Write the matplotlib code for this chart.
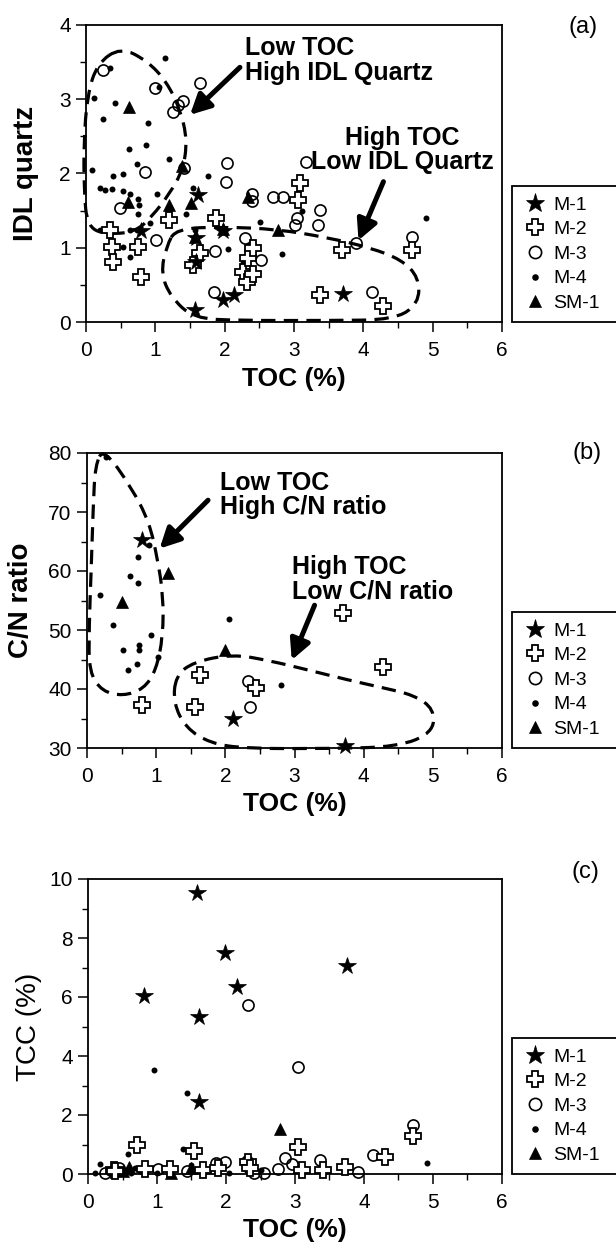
import numpy as np
import matplotlib
matplotlib.use('Agg')
import matplotlib.pyplot as plt
from matplotlib.path import Path
from matplotlib.patches import PathPatch, Rectangle
from matplotlib.ticker import MultipleLocator

plt.rcParams['font.family'] = ['Liberation Sans', 'DejaVu Sans']

series_names = ['M-1', 'M-2', 'M-3', 'M-4', 'SM-1']

# ---------------- Panel (a): TOC vs IDL quartz ----------------
a_m1_toc = [0.80, 1.57, 1.59, 1.59, 1.62, 1.98, 1.98, 2.13, 3.71]
a_m1_idl = [1.22, 0.16, 1.13, 0.81, 1.71, 1.22, 0.30, 0.36, 0.38]
a_m2_toc = [0.35, 0.37, 0.39, 0.75, 0.80, 1.19, 1.55, 1.64, 1.88, 2.27,
            2.32, 2.34, 2.41, 2.41, 3.06, 3.09, 3.38, 3.69, 4.29, 4.70]
a_m2_idl = [1.24, 1.01, 0.81, 1.01, 0.61, 1.38, 0.77, 0.93, 1.40, 0.68,
            0.54, 0.86, 0.99, 0.65, 1.64, 1.87, 0.36, 0.97, 0.21, 0.97]
a_m3_toc = [0.24, 0.49, 0.85, 1.00, 1.01, 1.26, 1.33, 1.40, 1.42, 1.65,
            1.84, 1.86, 2.03, 2.02, 2.29, 2.38, 2.39, 2.39, 2.53, 2.70,
            2.84, 3.02, 3.04, 3.17, 3.34, 3.37, 3.90, 4.12, 4.70]
a_m3_idl = [3.40, 1.53, 2.02, 3.15, 1.10, 2.83, 2.92, 2.97, 2.08, 3.22,
            0.41, 0.95, 2.14, 1.89, 1.13, 1.00, 1.72, 1.63, 0.84, 1.69,
            1.69, 1.30, 1.40, 2.16, 1.31, 1.51, 1.06, 0.41, 1.15]
a_m4_toc = [1.14, 0.35, 0.42, 0.24, 0.90, 0.62, 0.86, 1.19, 0.73, 0.54,
            0.39, 1.76, 0.20, 0.27, 0.37, 0.54, 0.63, 0.75, 0.77, 1.02,
            1.55, 0.75, 0.92, 1.44, 0.20, 0.27, 0.39, 0.63, 0.73, 2.51,
            1.57, 0.54, 0.63, 2.05, 2.26, 1.57, 3.11, 2.82, 4.90, 1.06,
            0.12, 0.08]
a_m4_idl = [3.55, 3.42, 2.95, 2.73, 2.68, 2.33, 2.39, 2.19, 2.13, 1.99,
            1.96, 1.97, 1.80, 1.78, 1.79, 1.76, 1.72, 1.65, 1.58, 1.72,
            1.80, 1.46, 1.33, 1.46, 1.24, 1.24, 1.24, 1.24, 1.24, 1.35,
            1.24, 1.01, 0.88, 0.98, 0.80, 0.79, 1.49, 0.92, 1.40, 3.17,
            3.02, 2.05]
a_sm1_toc = [0.62, 0.61, 1.19, 1.52, 1.38, 1.57, 2.77, 2.34, 1.98]
a_sm1_idl = [2.89, 1.62, 1.58, 1.60, 2.10, 1.15, 1.24, 1.69, 1.25]

# ---------------- Panel (b): TOC vs C/N ratio ----------------
b_m1_toc = [0.79, 2.11, 3.73]
b_m1_cn = [65.3, 35.0, 30.3]
b_m2_toc = [0.79, 1.56, 1.63, 2.45, 3.70, 4.28]
b_m2_cn = [37.3, 37.0, 42.4, 40.1, 52.8, 43.8]
b_m3_toc = [2.33, 2.35]
b_m3_cn = [41.3, 37.0]
b_m4_toc = [0.28, 0.74, 0.62, 0.74, 0.19, 0.38, 0.93, 0.52, 0.75, 0.75,
            1.03, 0.73, 0.59, 2.06, 2.81, 0.89]
b_m4_cn = [79.4, 62.3, 59.2, 58.0, 55.9, 50.8, 49.2, 46.6, 47.5, 46.6,
           45.5, 44.3, 43.2, 51.8, 40.7, 64.4]
b_sm1_toc = [1.17, 0.50, 1.99]
b_sm1_cn = [59.6, 54.8, 46.6]

# ---------------- Panel (c): TOC vs TCC ----------------
c_m1_toc = [1.58, 1.99, 2.16, 0.81, 1.61, 1.61, 3.75]
c_m1_tcc = [9.54, 7.48, 6.35, 6.05, 5.31, 2.44, 7.06]
c_m2_toc = [0.37, 0.39, 0.71, 0.83, 1.19, 1.53, 1.66, 1.89, 2.32, 2.35,
            3.05, 3.10, 3.41, 3.72, 4.30, 4.71]
c_m2_tcc = [0.13, 0.10, 0.98, 0.17, 0.17, 0.78, 0.15, 0.22, 0.40, 0.20,
            0.90, 0.15, 0.15, 0.25, 0.59, 1.30]
c_m3_toc = [0.25, 0.45, 1.02, 1.43, 1.86, 1.99, 2.32, 2.30, 2.41, 2.55,
            2.75, 2.86, 2.95, 3.04, 3.36, 3.92, 4.13, 4.71]
c_m3_tcc = [0.02, 0.20, 0.17, 0.10, 0.36, 0.41, 5.74, 0.45, 0.05, 0.05,
            0.18, 0.55, 0.35, 3.63, 0.47, 0.08, 0.64, 1.66]
c_m4_toc = [0.17, 0.58, 0.95, 1.38, 1.44, 4.92, 0.10, 0.30, 0.45, 0.55,
            0.62, 0.68, 0.75, 1.00, 1.50, 1.55, 2.05, 2.30, 2.50]
c_m4_tcc = [0.35, 0.68, 3.51, 0.86, 2.75, 0.38, 0.05, 0.05, 0.10, 0.15,
            0.05, 0.20, 0.10, 0.05, 0.30, 0.10, 0.05, 0.10, 0.15]
c_sm1_toc = [2.78, 0.50, 0.60, 1.20, 1.50]
c_sm1_tcc = [1.51, 0.10, 0.25, 0.05, 0.20]

# ---------------- Hand-drawn dashed outlines (annotation shapes) ----------------
a_loop1 = [(0.50, 3.70), (0.88, 3.52), (1.16, 3.24), (1.36, 2.86), (1.46, 2.45),
           (1.40, 2.05), (1.20, 1.72), (0.95, 1.42), (0.72, 1.22), (0.35, 1.18),
           (0.02, 1.26), (-0.03, 1.80), (-0.03, 2.45), (0.02, 3.05), (0.16, 3.48)]
a_loop2 = [(1.30, 1.26), (2.00, 1.28), (2.75, 1.25), (3.47, 1.14), (4.10, 1.00),
           (4.55, 0.84), (4.80, 0.60), (4.80, 0.25), (4.45, 0.03), (3.50, 0.02),
           (2.20, 0.02), (1.55, 0.05), (1.22, 0.34), (1.08, 0.66), (1.16, 1.02)]
b_loop1 = [(0.24, 80.8), (0.64, 74.2), (0.90, 68.3), (1.02, 62.0), (1.10, 56.0),
           (1.10, 49.0), (1.00, 43.2), (0.82, 40.0), (0.52, 38.8), (0.22, 39.6),
           (0.03, 42.8), (0.03, 50.5), (0.06, 60.0), (0.09, 71.0), (0.12, 78.0)]
b_loop2 = [(1.28, 42.2), (1.54, 44.6), (2.11, 45.9), (2.64, 44.8), (3.17, 43.3),
           (3.75, 41.6), (4.28, 40.2), (4.72, 39.0), (5.02, 36.6), (5.00, 32.6),
           (4.50, 30.2), (3.50, 29.9), (2.30, 29.9), (1.78, 30.8), (1.43, 33.4),
           (1.25, 37.6)]

styles = {
    'M-1': dict(marker='*', ms=13, mfc='black', mec='black', mew=0.5),
    'M-2': dict(marker='P', ms=11, mfc='white', mec='black', mew=1.3),
    'M-3': dict(marker='o', ms=8, mfc='none', mec='black', mew=1.2),
    'M-4': dict(marker='o', ms=4.3, mfc='black', mec='black', mew=0),
    'SM-1': dict(marker='^', ms=8, mfc='black', mec='black', mew=0.5),
}
draw_order = ['M-4', 'M-3', 'SM-1', 'M-2', 'M-1']


def closed_smooth(points):
    pts = np.array(points, dtype=float)
    n = len(pts)
    mids = [(pts[i] + pts[(i + 1) % n]) / 2 for i in range(n)]
    verts = [mids[-1]]
    codes = [Path.MOVETO]
    for i in range(n):
        verts += [pts[i], mids[i]]
        codes += [Path.CURVE3, Path.CURVE3]
    return Path(verts, codes)


def dashed_loop(ax, pts):
    patch = PathPatch(closed_smooth(pts), facecolor='none', edgecolor='black',
                      lw=2.3, linestyle=(0, (4.5, 2.6)), zorder=1.5,
                      clip_on=False, capstyle='butt')
    ax.add_patch(patch)


FW, FH = 616, 1246
fig = plt.figure(figsize=(FW / 100, FH / 100), dpi=100)


def make_axes(left, right, top, bottom):
    return fig.add_axes([left / FW, 1 - bottom / FH, (right - left) / FW, (bottom - top) / FH])


ax_a = make_axes(86, 502, 25, 322)
ax_b = make_axes(87, 502, 453, 748)
ax_c = make_axes(88, 502, 879, 1174)

panel_data = [
    (ax_a, {'M-1': (a_m1_toc, a_m1_idl), 'M-2': (a_m2_toc, a_m2_idl),
            'M-3': (a_m3_toc, a_m3_idl), 'M-4': (a_m4_toc, a_m4_idl),
            'SM-1': (a_sm1_toc, a_sm1_idl)}),
    (ax_b, {'M-1': (b_m1_toc, b_m1_cn), 'M-2': (b_m2_toc, b_m2_cn),
            'M-3': (b_m3_toc, b_m3_cn), 'M-4': (b_m4_toc, b_m4_cn),
            'SM-1': (b_sm1_toc, b_sm1_cn)}),
    (ax_c, {'M-1': (c_m1_toc, c_m1_tcc), 'M-2': (c_m2_toc, c_m2_tcc),
            'M-3': (c_m3_toc, c_m3_tcc), 'M-4': (c_m4_toc, c_m4_tcc),
            'SM-1': (c_sm1_toc, c_sm1_tcc)}),
]

ylims = [(0, 4), (30, 80), (0, 10)]
ymaj = [1, 10, 2]
ymin = [0.5, 5, 1]
ylabels = ['IDL quartz', 'C/N ratio', 'TCC (%)']
yweights = ['bold', 'bold', 'normal']
ylabel_x = [-0.113, -0.128, -0.110]
panel_tags = ['(a)', '(b)', '(c)']
tag_pos = [(583, 27), (587, 453), (585, 872)]
legend_bottoms = [322, 748, 1174]
LEG_H = 136

for i, (ax, data) in enumerate(panel_data):
    handles = {}
    for name in draw_order:
        xs, ys = data[name]
        h, = ax.plot(xs, ys, linestyle='none', label=name, zorder=3, clip_on=False, **styles[name])
        handles[name] = h
    ax.set_xlim(0, 6)
    ax.set_ylim(*ylims[i])
    ax.xaxis.set_major_locator(MultipleLocator(1))
    ax.xaxis.set_minor_locator(MultipleLocator(0.5))
    ax.yaxis.set_major_locator(MultipleLocator(ymaj[i]))
    ax.yaxis.set_minor_locator(MultipleLocator(ymin[i]))
    ax.tick_params(which='major', direction='out', length=7, width=1.1, labelsize=15, pad=4)
    ax.tick_params(which='minor', direction='out', length=4.5, width=1.0)
    ax.tick_params(axis='x', which='major', pad=7)
    for s in ax.spines.values():
        s.set_linewidth(1.3)
    ax.set_xlabel('TOC (%)', fontsize=19, fontweight='bold')
    ax.xaxis.set_label_coords(0.5, -0.15)
    ax.set_ylabel(ylabels[i], fontsize=20, fontweight=yweights[i])
    ax.yaxis.set_label_coords(ylabel_x[i], 0.5)
    bottom = legend_bottoms[i]
    frame = Rectangle((512 / FW, 1 - bottom / FH), 140 / FW, LEG_H / FH,
                      transform=fig.transFigure, facecolor='white', edgecolor='black',
                      lw=1.3, clip_on=False, zorder=-1)
    fig.add_artist(frame)
    leg = ax.legend([handles[n] for n in series_names], series_names,
                    loc='center left',
                    bbox_to_anchor=(525 / FW, 1 - (bottom - LEG_H / 2) / FH),
                    bbox_transform=fig.transFigure, borderaxespad=0, borderpad=0,
                    fontsize=14, frameon=False,
                    handlelength=1.0, handletextpad=0.45, labelspacing=0.36,
                    markerscale=1.1)
    leg.set_zorder(5)
    fig.text(tag_pos[i][0] / FW, 1 - tag_pos[i][1] / FH, panel_tags[i],
             fontsize=17, ha='center', va='center')

# outlines
dashed_loop(ax_a, a_loop1)
dashed_loop(ax_a, a_loop2)
dashed_loop(ax_b, b_loop1)
dashed_loop(ax_b, b_loop2)

arrow_kw = dict(arrowstyle='-|>,head_length=0.55,head_width=0.28', lw=3.6,
                color='black', shrinkA=0, shrinkB=0, mutation_scale=22)

# Panel (a) annotations
ax_a.text(2.30, 3.52, 'Low TOC\nHigh IDL Quartz', fontsize=18, fontweight='bold',
          ha='left', va='center', linespacing=1.02, zorder=5)
ax_a.annotate('', xy=(1.50, 2.79), xytext=(2.22, 3.43), arrowprops=arrow_kw)
ax_a.text(4.56, 2.32, 'High TOC\nLow IDL Quartz', fontsize=18, fontweight='bold',
          ha='center', va='center', linespacing=1.02, zorder=5)
ax_a.annotate('', xy=(3.93, 1.10), xytext=(4.29, 1.89), arrowprops=arrow_kw)

# Panel (b) annotations
ax_b.text(1.92, 72.9, 'Low TOC\nHigh C/N ratio', fontsize=18, fontweight='bold',
          ha='left', va='center', linespacing=1.02, zorder=5)
ax_b.annotate('', xy=(1.05, 63.8), xytext=(1.75, 72.0), arrowprops=arrow_kw)
ax_b.text(2.96, 58.6, 'High TOC\nLow C/N ratio', fontsize=18, fontweight='bold',
          ha='left', va='center', linespacing=1.02, zorder=5)
ax_b.annotate('', xy=(2.96, 44.9), xytext=(3.29, 54.2), arrowprops=arrow_kw)

fig.savefig('out.png', dpi=100)
